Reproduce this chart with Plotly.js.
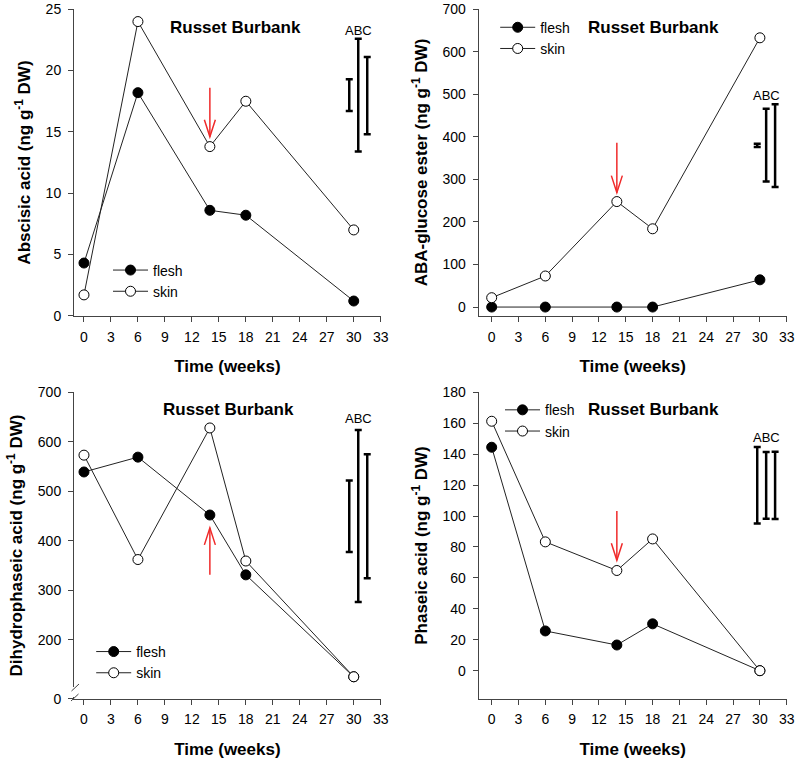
<!DOCTYPE html>
<html>
<head>
<meta charset="utf-8">
<script src="https://cdn.plot.ly/plotly-3.0.1.min.js"></script>
<style>html,body{margin:0;padding:0;background:#fff;}#chart{width:800px;height:763px;}</style>
</head>
<body>
<div id="chart"></div>
<script>
// ---- data ----
var weeks = [0, 6, 14, 18, 30];
var xTicks = [0, 3, 6, 9, 12, 15, 18, 21, 24, 27, 30, 33];

var abaFlesh = [4.3, 18.2, 8.6, 8.2, 1.2];
var abaSkin = [1.7, 24.0, 13.8, 17.5, 7.0];
var abageFlesh = [0, 0, 0, 0, 64];
var abageSkin = [22, 73, 248, 184, 633];
var dpaFlesh = [539, 569, 452, 331, 125];
var dpaSkin = [573, 362, 628, 359, 125];
var paFlesh = [144.5, 25.7, 16.6, 30.3, 0];
var paSkin = [161.3, 83.3, 64.8, 85.2, 0];

// LSD-type bars A, B, C
var errLabels = ['A', 'B', 'C'];
var errXLeft = [29.5, 30.5, 31.5];
var errXRight = [29.7, 30.7, 31.7];
var abaErrLow = [16.7, 13.4, 14.8];
var abaErrHigh = [19.3, 22.6, 21.1];
var abageErrLow = [376, 295, 282];
var abageErrHigh = [384, 466, 477];
var dpaErrLow = [377, 276, 324];
var dpaErrHigh = [522, 624, 575];
var paErrLow = [95.1, 98.3, 98.1];
var paErrHigh = [144.6, 141.4, 141.6];

// arrow (week 14) tail -> tip
var abaArrow = [18.6, 14.6];
var abageArrow = [386, 269];
var dpaArrow = [331, 426];
var paArrow = [103.3, 71.4];

var dpaTickVals = [80.7, 200, 300, 400, 500, 600, 700];
var dpaTickText = ['0', '200', '300', '400', '500', '600', '700'];

var yTitles = [
  'Abscisic acid (ng g<sup>-1</sup> DW)',
  'ABA-glucose ester (ng g<sup>-1</sup> DW)',
  'Dihydrophaseic acid (ng g<sup>-1</sup> DW)',
  'Phaseic acid (ng g<sup>-1</sup> DW)'
];
var cultivar = 'Russet Burbank';
var xTitle = 'Time (weeks)';

// ---- build ----
var FONT = '"Liberation Sans", Arial, Helvetica, sans-serif';
var AX = '#444';
var RED = '#f02a2a';
var traces = [];
var annotations = [];
var shapes = [];

function mid(lo, hi) { return lo.map(function (v, i) { return (v + hi[i]) / 2; }); }
function half(lo, hi) { return lo.map(function (v, i) { return (hi[i] - v) / 2; }); }

function panel(n, flesh, skin, errX, lo, hi, abcY, arrow, legendName) {
  var xa = n === 1 ? 'x' : 'x' + n;
  var ya = n === 1 ? 'y' : 'y' + n;
  traces.push({
    x: weeks, y: flesh, xaxis: xa, yaxis: ya, name: 'flesh', legend: legendName,
    mode: 'lines+markers', cliponaxis: false,
    line: {color: '#222', width: 1},
    marker: {size: 10, color: '#000', line: {color: '#000', width: 1}}
  });
  traces.push({
    x: weeks, y: skin, xaxis: xa, yaxis: ya, name: 'skin', legend: legendName,
    mode: 'lines+markers', cliponaxis: false,
    line: {color: '#222', width: 1},
    marker: {size: 10, color: '#fff', line: {color: '#000', width: 1}}
  });
  traces.push({
    x: errX, y: mid(lo, hi), xaxis: xa, yaxis: ya, showlegend: false,
    mode: 'markers', hoverinfo: 'skip', cliponaxis: false,
    marker: {size: 1, color: 'rgba(0,0,0,0)'},
    error_y: {type: 'data', array: half(lo, hi), visible: true, color: '#000', thickness: 2.5, width: 3.5}
  });
  annotations.push({
    xref: xa, yref: ya, x: errX[1], y: abcY, text: errLabels.join(''),
    showarrow: false, xanchor: 'center', yanchor: 'middle', font: {family: FONT, size: 13, color: '#000'}
  });
  // arrow shaft
  shapes.push({
    type: 'line', xref: xa, yref: ya, x0: weeks[2], x1: weeks[2], y0: arrow[0], y1: arrow[1],
    line: {color: RED, width: 1.5}, layer: 'above'
  });
  // arrow head (pixel sized, anchored at the tip)
  var dir = arrow[0] > arrow[1] ? 1 : -1;
  shapes.push({
    type: 'path', xref: xa, yref: ya, xsizemode: 'pixel', ysizemode: 'pixel',
    xanchor: weeks[2], yanchor: arrow[1],
    path: 'M-5.5,' + (17 * dir) + ' L0,0 L5.5,' + (17 * dir),
    line: {color: RED, width: 1.5}, layer: 'above'
  });
}

panel(1, abaFlesh, abaSkin, errXLeft, abaErrLow, abaErrHigh, 23.3, abaArrow, 'legend');
panel(2, abageFlesh, abageSkin, errXRight, abageErrLow, abageErrHigh, 498, abageArrow, 'legend2');
panel(3, dpaFlesh, dpaSkin, errXLeft, dpaErrLow, dpaErrHigh, 648, dpaArrow, 'legend3');
panel(4, paFlesh, paSkin, errXRight, paErrLow, paErrHigh, 151, paArrow, 'legend4');

var titlePos = [[0.525, 0.94], [0.566, 0.942], [0.505, 0.945], [0.566, 0.945]];
['', '2', '3', '4'].forEach(function (s, i) {
  annotations.push({
    xref: 'x' + s + ' domain', yref: 'y' + s + ' domain', x: titlePos[i][0], y: titlePos[i][1],
    xanchor: 'center', yanchor: 'middle',
    text: '<b>' + cultivar + '</b>', showarrow: false, font: {family: FONT, size: 17, color: '#000'}
  });
});

function xAxis(domain, range, anchor) {
  return {
    domain: domain, range: range, anchor: anchor, tickvals: xTicks,
    showline: true, linecolor: AX, linewidth: 1, ticks: 'outside', ticklen: 5, tickcolor: AX,
    ticklabelstandoff: 3,
    showgrid: false, zeroline: false, tickfont: {family: FONT, size: 14, color: '#000'},
    title: {text: '<b>' + xTitle + '</b>', font: {family: FONT, size: 17, color: '#000'}, standoff: 16},
    automargin: false, fixedrange: true
  };
}
function yAxis(domain, range, anchor, title, extra) {
  var a = {
    domain: domain, range: range, anchor: anchor,
    showline: true, linecolor: AX, linewidth: 1, ticks: 'outside', ticklen: 5, tickcolor: AX,
    ticklabelstandoff: 4,
    showgrid: false, zeroline: false, tickfont: {family: FONT, size: 14, color: '#000'},
    title: {text: '<b>' + title + '</b>', font: {family: FONT, size: 17, color: '#000'}, standoff: 10},
    automargin: false, fixedrange: true
  };
  for (var k in extra) a[k] = extra[k];
  return a;
}

var xL = [0.0925, 0.4759], xR = [0.5984, 0.9834];
var yT = [0.5862, 0.9878], yB = [0.0843, 0.4858];

function leg(x, y) {
  return {x: x, y: y, xanchor: 'left', yanchor: 'top', bgcolor: 'rgba(0,0,0,0)', borderwidth: 0,
    font: {family: FONT, size: 14, color: '#000'}, itemwidth: 35, tracegroupgap: 0};
}

shapes.push(
  {type: 'rect', xref: 'paper', yref: 'paper', x0: 70 / 800, x1: 79 / 800, y0: 1 - 697 / 763, y1: 1 - 687 / 763,
    fillcolor: '#fff', line: {width: 0}, layer: 'above'},
  {type: 'line', xref: 'paper', yref: 'paper', x0: 71.5 / 800, y0: 1 - 691 / 763, x1: 79 / 800, y1: 1 - 684 / 763,
    line: {color: AX, width: 1}, layer: 'above'},
  {type: 'line', xref: 'paper', yref: 'paper', x0: 71 / 800, y0: 1 - 701 / 763, x1: 78.5 / 800, y1: 1 - 694 / 763,
    line: {color: AX, width: 1}, layer: 'above'}
);

var layout = {
  width: 800, height: 763,
  margin: {l: 0, r: 0, t: 0, b: 0},
  paper_bgcolor: '#fff', plot_bgcolor: 'rgba(0,0,0,0)',
  font: {family: FONT, color: '#000'},
  xaxis: xAxis(xL, [-1.11, 33], 'y'),
  yaxis: yAxis(yT, [0, 25], 'x', yTitles[0], {tick0: 0, dtick: 5}),
  xaxis2: xAxis(xR, [-1.45, 33], 'y2'),
  yaxis2: yAxis(yT, [-20.4, 700], 'x2', yTitles[1], {tick0: 0, dtick: 100}),
  xaxis3: xAxis(xL, [-1.11, 33], 'y3'),
  yaxis3: yAxis(yB, [80.7, 700], 'x3', yTitles[2], {tickmode: 'array', tickvals: dpaTickVals, ticktext: dpaTickText}),
  xaxis4: xAxis(xR, [-1.45, 33], 'y4'),
  yaxis4: yAxis(yB, [-18.1, 180], 'x4', yTitles[3], {tick0: 0, dtick: 20}),
  legend: leg(0.135, 0.6665),
  legend2: leg(0.619, 0.9847),
  legend3: leg(0.114, 0.1665),
  legend4: leg(0.625, 0.4833),
  annotations: annotations,
  shapes: shapes,
  showlegend: true
};

Plotly.newPlot('chart', traces, layout, {staticPlot: true, displayModeBar: false});
</script>
</body>
</html>
